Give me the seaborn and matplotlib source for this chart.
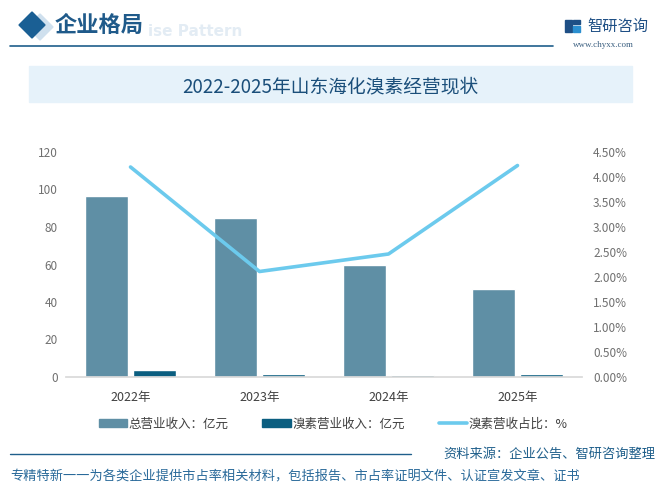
import numpy as np
import pandas as pd
import matplotlib
matplotlib.use("Agg")
import matplotlib.pyplot as plt
import matplotlib.patches as mpatches
from matplotlib.lines import Line2D
import seaborn as sns

# values
years = ["2022年", "2023年", "2024年", "2025年"]
total_rev = [96.7, 85.0, 60.0, 47.1]        # 总营业收入：亿元
bromine_rev = [3.7, 1.6, 1.1, 1.6]          # 溴素营业收入：亿元
bromine_share = [4.20, 2.11, 2.46, 4.23]    # 溴素营收占比：%

series_names = ["总营业收入：亿元", "溴素营业收入：亿元", "溴素营收占比：%"]
left_ticks = [0, 20, 40, 60, 80, 100, 120]
right_ticks = [0, 0.5, 1.0, 1.5, 2.0, 2.5, 3.0, 3.5, 4.0, 4.5]

sns.set_theme(style="white")
plt.rcParams["font.family"] = ["Noto Sans CJK SC", "DejaVu Sans"]

W, H = 666, 491
fig = plt.figure(figsize=(W / 100, H / 100), dpi=100)


def px(x, y):
    # pixel position -> figure fraction
    return x / W, 1 - y / H


# long table for seaborn
df = pd.DataFrame({
    "year": years * 2,
    "value": total_rev + bromine_rev,
    "series": [series_names[0]] * len(years) + [series_names[1]] * len(years),
})

bar_colors = ["#5f8fa5", "#0b5e80"]
line_color = "#6ccaed"

ax = fig.add_axes([66 / W, 1 - 377 / H, 516 / W, 225 / H])
sns.barplot(data=df, x="year", y="value", hue="series", palette=bar_colors,
            width=0.752, gap=0.115, saturation=1, ax=ax, legend=False)
ax.set_xlim(-0.5, 3.5)
ax.set_ylim(0, 120)
ax.set_yticks(left_ticks)
ax.set_xlabel("")
ax.set_ylabel("")
ax.tick_params(axis="y", colors="#707070", labelsize=8.5, length=0, pad=6)
ax.tick_params(axis="x", colors="#404040", labelsize=9, length=0, pad=10)
for s in ["top", "left", "right"]:
    ax.spines[s].set_visible(False)
ax.spines["bottom"].set_color("#d9d9d9")
ax.patch.set_alpha(0)

ax2 = ax.twinx()
sns.lineplot(x=np.arange(len(years)), y=bromine_share, color=line_color,
             linewidth=2.6, ax=ax2)
ax2.set_ylim(0, 4.5)
ax2.set_yticks(right_ticks)
ax2.set_yticklabels([f"{t:.2f}%" for t in right_ticks])
ax2.tick_params(axis="y", colors="#707070", labelsize=8.5, length=0, pad=8)
for s in ["top", "left", "right", "bottom"]:
    ax2.spines[s].set_visible(False)
ax2.set_xlim(-0.5, 3.5)

# legend
handles = [
    mpatches.Patch(color=bar_colors[0], label=series_names[0]),
    mpatches.Patch(color=bar_colors[1], label=series_names[1]),
    Line2D([0], [0], color=line_color, lw=2.6, label=series_names[2]),
]
fig.legend(handles=handles, loc="center", bbox_to_anchor=px(333, 424), ncol=3,
           frameon=False, fontsize=9, handlelength=2.3, handleheight=0.6,
           handletextpad=0.1, columnspacing=2.7, labelcolor="#404040")

# header
light = mpatches.Polygon([px(40, 14), px(53, 27), px(40, 40), px(27, 27)],
                         closed=True, transform=fig.transFigure,
                         color="#cfe0ee", zorder=1)
dark = mpatches.Polygon([px(32, 12), px(45, 25), px(32, 38), px(19, 25)],
                        closed=True, transform=fig.transFigure,
                        color="#1a5f94", zorder=2)
fig.patches.extend([light, dark])
fig.text(*px(148, 31), "ise Pattern", fontsize=11, fontweight="bold",
         color="#e3ecf4", va="center", ha="left", family="DejaVu Sans", zorder=1)
fig.text(*px(55, 25), "企业格局", fontsize=16, fontweight="bold",
         color="#1f5a8a", va="center", ha="left", zorder=3)
fig.add_artist(Line2D([10 / W, 553 / W], [1 - 46 / H] * 2, color="#1f5f8b",
                      lw=1.2, transform=fig.transFigure))

# logo
fig.patches.extend([
    mpatches.Rectangle(px(565, 32), 7 / W, 12 / H, transform=fig.transFigure,
                       color="#1e4f85"),
    mpatches.Rectangle(px(573, 32), 7 / W, 6 / H, transform=fig.transFigure,
                       color="#2b8fd0"),
    mpatches.Rectangle(px(573, 24), 7 / W, 4 / H, transform=fig.transFigure,
                       color="#1e4f85"),
])
fig.text(*px(587, 26), "智研咨询", fontsize=11, color="#1e4f85",
         va="center", ha="left")
fig.text(*px(603, 45), "www.chyxx.com", fontsize=6.5, color="#3b5f80",
         va="center", ha="center", family="Liberation Serif")

# title band
fig.patches.append(mpatches.Rectangle(px(29, 102), 603 / W, 36 / H,
                                      transform=fig.transFigure,
                                      color="#e6f2fa", zorder=0))
fig.text(*px(330, 87), "2022-2025年山东海化溴素经营现状", fontsize=13.5,
         fontweight="medium", color="#1a4e7a", va="center", ha="center")

# footer
fig.add_artist(Line2D([10 / W, 411 / W], [1 - 454 / H] * 2, color="#1f5f8b",
                      lw=1.0, transform=fig.transFigure))
fig.text(*px(655, 454), "资料来源：企业公告、智研咨询整理", fontsize=9.5,
         color="#1f5f8b", va="center", ha="right")
fig.text(*px(10, 476), "专精特新一一为各类企业提供市占率相关材料，包括报告、市占率证明文件、认证宣发文章、证书",
         fontsize=9.5, color="#2a6a9a", va="center", ha="left")

fig.savefig("out.png", dpi=100)
